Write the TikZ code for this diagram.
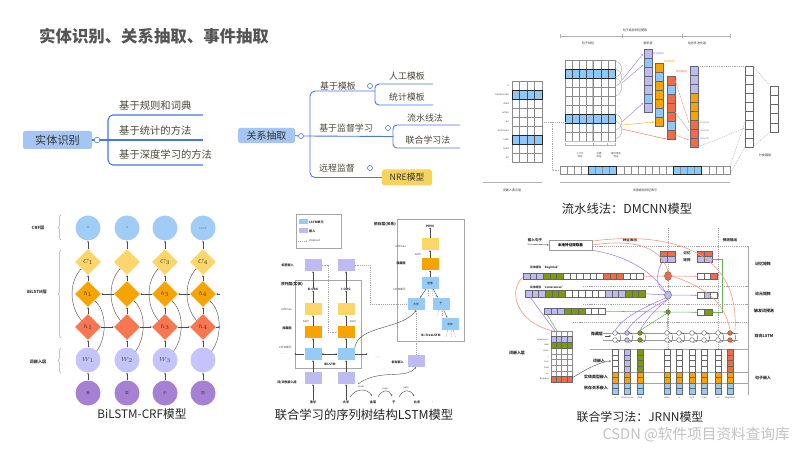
\documentclass[tikz,border=0pt]{standalone}
\usepackage{fontspec}
\setmainfont{Noto Sans CJK SC}
\usetikzlibrary{arrows.meta,shapes.geometric,decorations.pathreplacing,calc}
\newcommand\myfs[1]{\fontsize{#1}{#1}\selectfont}
\definecolor{mmblue}{RGB}{72,118,226}
\definecolor{boxblue}{RGB}{165,197,242}
\definecolor{mmtext}{RGB}{75,70,52}
\definecolor{nrey}{RGB}{246,212,92}
\definecolor{cblue}{RGB}{142,200,248}
\definecolor{lstmb}{RGB}{150,203,248}
\definecolor{cpur}{RGB}{190,186,242}
\definecolor{corg}{RGB}{246,164,0}
\definecolor{cred}{RGB}{242,106,72}
\definecolor{cgrn}{RGB}{122,154,16}
\definecolor{cyel}{RGB}{252,214,106}
\definecolor{cviol}{RGB}{166,128,212}
\definecolor{crfblue}{RGB}{160,204,245}
\definecolor{wlav}{RGB}{196,196,250}
\definecolor{hred}{RGB}{248,118,80}
\definecolor{titlegray}{RGB}{85,85,85}
\definecolor{salm}{RGB}{240,160,140}
\definecolor{arpur}{RGB}{165,120,238}
\definecolor{lgrn}{RGB}{100,180,90}
\newcommand\cellrow[6][cellb]{\foreach \cc [count=\ii from 0] in {#6}{\draw[#1,fill=\cc] ({#2+\ii*#4},#3) rectangle ++(#4,#5);}}
\newcommand\cellcol[6][cellb]{\foreach \cc [count=\ii from 0] in {#6}{\draw[#1,fill=\cc] (#2,{#3+\ii*#5}) rectangle ++(#4,#5);}}
\newcommand\bicol[8]{%
\node[crfc] (crf#1) at (#2,228) {#3};
\node[dia,fill=cyel,font=\myfs{4}] (c#1) at (#2,262) {#4};
\node[dia,fill=corg,font=\myfs{5}] (b#1) at (#2,294) {#5};
\node[dia,fill=hred,font=\myfs{5}] (h#1) at (#2,327) {#6};
\node[wcir] (w#1) at (#2,360) {#7};
\node[zcir] (z#1) at (#2,393) {#8};
\draw[sar] (z#1) -- (w#1);
\draw[sar] (w#1) -- (h#1);
\draw[sar] (h#1) -- (b#1);
\draw[sar] (b#1) -- (c#1);
\draw[sar] (c#1) -- (crf#1);
\draw[sar] ({#2+8.5},351.5) .. controls ({#2+19},337) and ({#2+19},312) .. ({#2+6.5},300.5);
\draw[sar] ({#2-6.5},320.5) .. controls ({#2-19},306) and ({#2-19},282) .. ({#2-6.5},268.5);
}
\begin{document}
\begin{tikzpicture}[x=0.3mm,y=-0.3mm,
 mmline/.style={draw=mmblue,line width=0.9pt},
 mmline2/.style={draw=mmblue,line width=0.75pt},
 mmdot/.style={circle,draw=mmblue,fill=white,line width=0.5pt,minimum size=1.7mm,inner sep=0},
 mmt/.style={text=mmtext,font=\myfs{8.8},inner sep=0},
 mmt2/.style={text=mmtext,font=\myfs{7.6},inner sep=0},
 gcell/.style={draw=black!45,line width=0.3pt},
 cellb/.style={draw=black!60,line width=0.3pt},
 hcell/.style={draw=black!70,line width=0.3pt},
 hbord/.style={draw=black!85,line width=0.6pt},
 tw/.style={font=\myfs{2.1},inner sep=0,text=black!70},
 tl/.style={font=\myfs{2.6},inner sep=0,text=black!80},
 brk/.style={draw=gray!60,line width=0.7pt},
 dsh/.style={draw=gray!70,dash pattern=on 0.8pt off 0.8pt,line width=0.35pt},
 sar/.style={-{Stealth[length=1.5pt,width=1.3pt]},draw=black!70,line width=0.35pt},
 captxt/.style={font=\myfs{10.5},text=black!85,inner sep=0},
 crfc/.style={circle,fill=crfblue,minimum size=7.5mm,inner sep=0,font=\myfs{2.8},text=black!60},
 dia/.style={diamond,shape aspect=1,minimum width=7.8mm,minimum height=7.8mm,inner sep=0,text=black!80},
 wcir/.style={circle,fill=wlav,minimum size=7.5mm,inner sep=0,font=\myfs{4},text=black!70},
 zcir/.style={circle,fill=cviol,minimum size=7.5mm,inner sep=0,font=\myfs{3.2},text=black!75},
 lay/.style={font=\myfs{3.6}\bfseries,inner sep=0,text=black!80},
 r5/.style={minimum width=5.1mm,minimum height=3.6mm,inner sep=0,font=\myfs{2.3}},
 t5/.style={font=\myfs{2.4},inner sep=0,text=black!75},
 t5b/.style={font=\myfs{2.6}\bfseries,inner sep=0,text=black!85},
 t6/.style={font=\myfs{3.4}\bfseries,inner sep=0,text=black!85},
 pline/.style={draw=arpur,line width=0.45pt},
 sline/.style={draw=salm,line width=0.55pt},
 gline/.style={draw=lgrn,line width=0.45pt},
 hdash/.style={draw=gray!70,dash pattern=on 1pt off 0.8pt,line width=0.4pt}
]
\useasboundingbox[fill=white] (0,0) rectangle (800,450);

% ---------------- title
\node[anchor=west,text=titlegray,font=\myfs{14}\bfseries,inner sep=0] (title) at (39,36) {实体识别、关系抽取、事件抽取};

% ---------------- panel 1: entity recognition mind map
\node[fill=boxblue,rounded corners=2pt,minimum width=20.7mm,minimum height=5.4mm,inner sep=0,font=\myfs{9.5},text=black!80] (er) at (57.5,140) {实体识别};
\node[mmdot] (erc) at (97,140) {};
\draw[mmline] (er.east) -- (erc.west);
\draw[mmline,rounded corners=1.5mm] (203,115) -- (108,115) -- (108,165) -- (203,165);
\draw[mmline] (erc.east) -- (203,140);
\node[mmt,anchor=west] (e1) at (119,105.5) {基于规则和词典};
\node[mmt,anchor=west] (e2) at (119,130.5) {基于统计的方法};
\node[mmt,anchor=west] (e3) at (119,155) {基于深度学习的方法};

% ---------------- panel 2: relation extraction mind map
\node[fill=boxblue,rounded corners=1.5pt,minimum width=17.1mm,minimum height=4.6mm,inner sep=0,font=\myfs{8.5},text=black!80] (re) at (266.5,135.5) {关系抽取};
\node[mmdot,minimum size=1.5mm] (rec) at (301,136) {};
\node[fill=nrey,rounded corners=1.5pt,minimum width=15mm,minimum height=4.8mm,inner sep=0,font=\myfs{7.5},text=black!80] (nre) at (407,177.5) {NRE模型};
\draw[mmline2] (re.east) -- (rec.west);
\draw[mmline2,rounded corners=1.5mm] (375,91) -- (310,91) -- (310,177.5) -- (nre.west);
\draw[mmline2] (rec.east) -- (393,136.5);
\draw[mmline2,rounded corners=1.2mm] (433,84) -- (375,84) -- (375,105) -- (433,105);
\draw[mmline2,rounded corners=1.2mm] (460,125) -- (393,125) -- (393,148) -- (460,148);
\node[mmdot,minimum size=1.5mm] (r1c) at (370,86) {};
\node[mmdot,minimum size=1.5mm] (r2c) at (388,128) {};
\node[mmdot,minimum size=1.5mm] (r3c) at (370,168) {};
\node[mmt2] (r1) at (338,86) {基于模板};
\node[mmt2] (r2) at (346,128) {基于监督学习};
\node[mmt2] (r3) at (337,168) {远程监督};
\node[mmt2] (r11) at (407,76) {人工模板};
\node[mmt2] (r12) at (407,97) {统计模板};
\node[mmt2] (r21) at (425,118) {流水线法};
\node[mmt2] (r22) at (428,140) {联合学习法};

% ---------------- panel 3: DMCNN
\draw[brk] (560,36) -- (730,36);
\foreach \x in {560,622,682,730}{\draw[brk,line width=0.4pt] (\x,34) -- (\x,38);}
\node[tl] (d1) at (635,30) {句子级别特征提取};
\node[tl] (d2) at (588,43) {句子特征};
\node[tl] (d3) at (648,43) {卷积层};
\node[tl] (d4) at (697,43) {动态多池化层};
% left grid
\foreach \r in {0,...,8}{\foreach \c in {0,...,3}{\draw[gcell] ({512+\c*7.5},{81+\r*9}) rectangle ++(7.5,9);}}
\foreach \r in {1,6}{\cellrow[hcell]{512}{81+\r*9}{7.5}{9}{cblue,cblue,cblue,cblue}\draw[hbord] (512,{81+\r*9}) rectangle ++(30,9);}
\foreach \w [count=\i from 0] in {a,cameraman,died,when,an,American,tank,fired,on}{\node[tw,anchor=east] (lw\i) at (509,{85.5+\i*9}) {\w};}
\node[tw,anchor=east] (lwd) at (509,167) {...};
% main grid
\draw[gray!45,line width=1.2pt] (593,60) -- (593,141);
\foreach \r in {0,...,8}{\foreach \c in {0,...,6}{\draw[gcell] ({565+\c*7.143},{60+\r*9}) rectangle ++(7.143,9);}}
\foreach \r in {1,6}{\cellrow[hcell]{565}{60+\r*9}{7.143}{9}{cblue,cblue,cblue,cblue,cblue,cblue,cblue}\draw[hbord] (565,{60+\r*9}) rectangle ++(50,9);}
\draw[gray!50,line width=1pt] (565,141.5) -- (615,141.5);
\foreach \a/\b in {61/77,69/86,78/96,114/130,121/139}{\draw[gray!70,line width=0.35pt] (615,\a) .. controls (624,{\a+2}) and (624,{\b-2}) .. (615,\b);}
\foreach \y in {100,106,112}{\fill[gray] (619,\y) circle (0.3);}
\draw[brk,line width=0.5pt] (565,145) -- (615,145);
\foreach \x in {565,593,607,615}{\draw[brk,line width=0.4pt] (\x,143.5) -- (\x,146.5);}
\node[tw,align=center] (f1) at (580,155) {上下文\\特征};
\node[tw,align=center] (f2) at (599,155) {位置\\特征};
\node[tw,align=center] (f3) at (616,155) {事件类型\\特征};
% conv columns
\cellcol{644}{49}{8}{9}{cpur,cblue,cpur,cpur,cpur,cblue,cpur}
\cellcol{655}{63}{8}{9}{corg,cblue,corg,corg,corg,cblue,corg}
\cellcol{667}{76}{8}{9}{cred,cblue,cred,cred,cred,cblue,cred}
\node[tw,text=arpur,anchor=west] (fm1) at (653,54) {特征映射1};
\node[tw,text=corg,anchor=west] (fm2) at (664,62) {特征映射2};
\node[tw,text=cred,anchor=west] (fm3) at (676,72) {特征映射3};
% pooled, classifier
\cellcol{690}{66}{8}{9}{cpur,cpur,cpur,corg,corg,corg,cred,cred,cred}
\cellcol{745}{66}{8}{9}{white,white,white,white,white,white,white,white,white}
\cellcol{770}{86}{8}{9.2}{white,white,white,white,white}
\foreach \y/\t in {123/max(c1),131/max(c2),139/max(c3)}{\node[tw,text=gray,anchor=west] at (700,\y) {\t};}
% arrows into conv
\draw[draw=arpur,line width=0.35pt,-{Stealth[length=1.6pt]}] (622,80) -- (643,54);
\draw[draw=arpur,line width=0.35pt,-{Stealth[length=1.6pt]}] (622,83) -- (643,65);
\draw[draw=arpur,line width=0.35pt,-{Stealth[length=1.6pt]}] (622,122) -- (643,103);
\draw[draw=corg,line width=0.35pt,-{Stealth[length=1.6pt]}] (622,125) -- (654,122);
\draw[draw=cred,line width=0.35pt,-{Stealth[length=1.6pt]}] (622,129) -- (666,139);
\draw[draw=salm,line width=0.35pt,-{Stealth[length=1.6pt]}] (675,80) -- (689,123);
\draw[draw=salm,line width=0.35pt,-{Stealth[length=1.6pt]}] (675,112) -- (689,131);
\draw[draw=salm,line width=0.35pt,-{Stealth[length=1.6pt]}] (675,135) -- (689,140);
% bottom row
\cellrow[gcell]{560}{166}{7.083}{8}{white,white,white,white,cblue,cblue,cblue,cblue,white,white,white,white,white,white,white,white,cblue,cblue,cblue,cblue,white,white,white,white}
\draw[hbord] (588.3,166) rectangle ++(28.33,8);
\draw[hbord] (673.3,166) rectangle ++(28.33,8);
\draw[brk] (483,182) -- (542,182);
\draw[brk] (560,182) -- (730,182);
\node[tl] (d5) at (512,190) {词嵌入表示层};
\node[tl] (d6) at (645,190) {词语级别特征表示};
\node[tl] (d7) at (765,155) {分类器层};
% dashed connectors
\draw[dsh] (542,122) -- (565,122);
\draw[dsh] (552,122) -- (552,170) -- (560,170);
\draw[dsh] (698,66) -- (745,66);
\draw[dsh] (698,147) -- (745,128);
\draw[dsh] (753,66) -- (770,86);
\draw[dsh] (753,147) -- (770,132);
\draw[dsh] (730,166) -- (745,122);
\draw[dsh] (730,174) -- (745,147);
\node[captxt] (cap3) at (627,209) {流水线法：DMCNN模型};

% ---------------- panel 4: BiLSTM-CRF
\bicol{1}{88}{o}{$C_1$}{$b_1$}{$h_1$}{$W_1$}{我}
\bicol{2}{127}{o}{}{}{}{$W_2$}{爱}
\bicol{3}{165}{}{$C_3$}{$b_3$}{$h_3$}{$W_3$}{中}
\bicol{4}{203}{\myfs{2.4}I-LOC}{$C_4$}{$b_4$}{$h_4$}{}{国}
\draw[sar] (h1) -- (h2);
\draw[sar] (h2) -- (h3);
\draw[sar] (h3) -- (h4);
\draw[sar] (b2) -- (b1);
\draw[sar] (b3) -- (b2);
\draw[sar] (b4) -- (b3);
\draw[sar] (h4.east) -- ++(4,0);
\draw[sar] (b4.east) ++(4,0) -- (b4.east);
\node[lay] (l1) at (38,228) {CRF层};
\node[lay] (l2) at (37,292) {BiLSTM层};
\node[lay] (l3) at (38,362) {词嵌入层};
\draw[gray!70,line width=0.4pt,decorate,decoration={brace,amplitude=2.5pt}] (61,240) -- (61,215);
\draw[gray!70,line width=0.4pt,decorate,decoration={brace,amplitude=2.5pt}] (61,338) -- (61,250);
\draw[gray!70,line width=0.4pt,decorate,decoration={brace,amplitude=2.5pt}] (61,373) -- (61,348);
\node[captxt,font=\myfs{10}] (cap4) at (142,414) {BiLSTM-CRF模型};

% ---------------- panel 5: sequence / tree LSTM
\node[draw=gray!70,line width=0.4pt,minimum width=13.5mm,minimum height=10.2mm] (leg) at (318.5,231) {};
\node[fill=lstmb,minimum width=2.7mm,minimum height=1.5mm,inner sep=0] (legb) at (303,222) {};
\node[t5b,anchor=west] (legbt) at (309,222) {LSTM单元};
\node[fill=cpur,minimum width=2.7mm,minimum height=1.5mm,inner sep=0] (legp) at (303,231) {};
\node[t5b,anchor=west] (legpt) at (309,231) {嵌入};
\coordinate (lda) at (298,241); \coordinate (ldb) at (307,241);
\draw[dsh,-{Stealth[length=1.2pt]}] (lda) -- (ldb);
\node[t5,anchor=west] (legdt) at (309,241) {dropout};
\draw[gray!70,line width=0.5pt] (295,280) rectangle (361,368);
\node[t5b,font=\myfs{3.2}\bfseries,anchor=east] (seqlab) at (303,284) {序列层(实体)};
\foreach \i/\x/\lb in {1/313/B-ORG,2/346/I-ORG}{
 \node[r5,fill=cpur] (te\i) at (\x,265) {};
 \node[t5b] (lb\i) at (\x,289) {\lb};
 \node[r5,fill=cyel] (sm\i) at (\x,309) {};
 \node[r5,fill=corg] (hd\i) at (\x,332) {};
 \node[r5,fill=lstmb] (ls\i) at (\x,354) {};
 \node[r5,fill=cpur] (em\i) at (\x,378) {};
 \draw[sar] (em\i) -- (ls\i);
 \draw[sar] (ls\i) -- (hd\i);
 \draw[sar] (hd\i) -- (sm\i);
 \draw[sar] (sm\i) -- (lb\i);
 \draw[sar] (lb\i) -- (te\i);
}
\draw[sar] (ls1) -- (ls2);
\draw[sar] (ls2) -- (ls1);
\draw[sar] (ls1.west) -- ++(-10,0);
\draw[sar] (ls2.east) -- ++(13,0);
\node[t5] (dl) at (283,354) {......};
\node[t5] (dr) at (378,357) {......};
\node[t5,anchor=east] (s5a) at (292,309) {softmax};
\node[t5b,anchor=east] (s5b) at (292,328) {隐藏层};
\node[t5,anchor=east] (s5c) at (292,347) {LSTM单元};
\node[t5] (s5d) at (306,321) {tanh};
\node[t5] (s5e) at (353,321) {tanh};
\node[t5b,anchor=east] (s5f) at (294,265) {标签嵌入};
\node[t5b] (s5g) at (330,364) {BiLSTM};
\node[t5b,anchor=east] (s5h) at (297,382) {词/词性嵌入层};
\foreach \n/\x/\w in {wa/313/清华,wb/346/大学,wc/373/坐落,wd/394/于,we/417/北京,wf/433/.}{\node[t5b] (\n) at (\x,402) {\w};}
\draw[sar] (wa) -- (em1);
\draw[sar] (wb) -- (em2);
\draw[sar] (350,397) .. controls (356,388) and (367,388) .. (372,396);
\node[t5,font=\myfs{2}] (dp1) at (361,387) {nsubj};
\draw[sar] (378,397) .. controls (382,389) and (389,389) .. (392,396);
\node[t5,font=\myfs{2}] (dp2) at (385,389) {prep};
\draw[sar] (399,397) .. controls (403,389) and (410,389) .. (414,396);
\node[t5,font=\myfs{2}] (dp3) at (406,388) {pobj};
% relation box
\draw[gray!70,line width=0.5pt] (397,219) rectangle (464,341);
\node[t5b,font=\myfs{3.2}\bfseries,anchor=east] (rellab) at (396,224) {依存层(关系)};
\node[t5b] (phys) at (430,226) {PHYS};
\node[r5,fill=cyel] (tsm) at (430,244) {};
\node[r5,fill=corg] (thd) at (430,264) {};
\node[r5,fill=lstmb] (tzl) at (430,283) {坐落};
\node[r5,fill=lstmb] (tdx) at (416,304) {大学};
\node[r5,fill=lstmb] (tyu) at (441,304) {于};
\node[r5,fill=lstmb] (tbj) at (450,324) {北京};
\draw[sar] (tzl) -- (thd);
\draw[sar] (thd) -- (tsm);
\draw[sar] (tsm) -- (phys);
\draw[sar] (tzl) -- (tdx);
\draw[sar] (tzl) -- (tyu);
\draw[sar] (tyu) -- (tbj);
\draw[dsh,-{Stealth[length=1.2pt]}] (428,296) -- (428,289);
\draw[dsh,-{Stealth[length=1.2pt]}] (433,296) -- (432,289);
\draw[dsh,-{Stealth[length=1.2pt]}] (437,316) -- (439,310);
\draw[dsh,-{Stealth[length=1.2pt]}] (442,316) -- (442,310);
\draw[dsh,-{Stealth[length=1.2pt]}] (446,337) -- (448,330);
\draw[dsh,-{Stealth[length=1.2pt]}] (452,337) -- (451,330);
\draw[dsh,-{Stealth[length=1.2pt]}] (456,337) -- (453,330);
\node[t5,anchor=east] (t5a) at (406,246) {softmax};
\node[t5] (t5tanh) at (418,254) {tanh};
\node[t5b,anchor=east] (t5c) at (406,263) {隐藏层};
\node[t5,anchor=east] (t5d) at (406,289) {LSTM单元};
\node[t5b] (t5e) at (431,335) {Bi-TreeLSTM};
\node[r5,fill=cpur] (dep) at (416,361) {};
\node[t5b,anchor=east] (deplab) at (404,362) {依存嵌入};
\draw[dsh,-{Stealth[length=1.2pt]}] (dep) -- (tdx);
\draw[dsh,-{Stealth[length=1.2pt]}] (te1.east) -- (328,265) -- (328,332) -- (hd2.west);
\draw[dsh,-{Stealth[length=1.2pt]}] (te2.east) -- (370,265) -- (370,304) -- (tdx.west);
\draw[sar] (ls2.north east) .. controls (358,325) and (402,330) .. (tdx.south);
\draw[sar] (358,384) .. controls (380,368) and (405,380) .. (dep.south);
\node[captxt] (cap5) at (364,415) {联合学习的序列树结构LSTM模型};

% ---------------- panel 6: JRNN
\node[t6,font=\myfs{3}\bfseries] (inlab) at (535,240) {输入句子};
\node[draw=gray!80,line width=0.4pt,minimum width=12.9mm,minimum height=3mm,inner sep=0,font=\myfs{3}\bfseries] (ext) at (570.5,245) {本地特征提取器};
\draw[sar] (527,244) -- (ext.west);
\node[t6,font=\myfs{3}\bfseries] (fr) at (630,240) {特征表示};
\node[t6,font=\myfs{3}\bfseries] (po) at (730,240) {预测输出};
\foreach \y/\xa in {246/593,286/583,304/583,322/573}{\draw[hdash] (\xa,\y) -- (748,\y);}
\draw[gray!70,line width=0.4pt] (590,349) -- (748,349);
\draw[gray!70,line width=0.4pt] (612,372) -- (748,372);
\draw[gray!70,line width=0.4pt] (612,383) -- (748,383);
\draw[hdash] (668,228) -- (668,352);
\draw[hdash] (718,228) -- (718,352);
\draw[gray!70,line width=0.4pt] (748,246) -- (748,395);
\node[t6] (rl1) at (763,264) {记忆矩阵};
\node[t6] (rl2) at (763,294) {论元矩阵};
\node[t6] (rl3) at (764,311) {触发词预测};
\node[t6] (rl4) at (764,336) {双向LSTM};
\node[t6] (rl5) at (763,378) {句子嵌入};
% memory rows
\node[tl,font=\myfs{2.4}\bfseries,anchor=west] (mrl1) at (530,268) {实体提及 “Baghdad”};
\cellrow{523}{273}{6.67}{6.5}{cpur,cpur,cpur,cgrn,cgrn,cgrn,white,white,white,white,white,white,cred,cred,cred,white,white,white}
\node[tl,font=\myfs{2.4}\bfseries,anchor=west] (mrl2) at (530,287) {实体提及 “cameraman”};
\cellrow{525}{290.5}{6.67}{6.5}{cpur,cpur,cpur,cgrn,cgrn,cgrn,white,white,white,white,white,white,cpur,cpur,cpur,cgrn,cgrn,cgrn}
\cellrow{544}{308}{6.78}{6.5}{cpur,cpur,cpur,cgrn,cgrn,cgrn,white,white,white}
% nodes
\node[ellipse,draw=black!70,line width=0.3pt,fill=cred,minimum width=2.1mm,minimum height=2.7mm,inner sep=0] (mr) at (668,276) {};
\node[ellipse,draw=black!70,line width=0.3pt,fill=cpur,minimum width=2.1mm,minimum height=2.5mm,inner sep=0] (mp) at (668,295) {};
\node[circle,draw=black!70,line width=0.3pt,fill=cgrn,minimum size=1.4mm,inner sep=0] (mg) at (668,312) {};
% memory blocks
\cellrow{660}{251}{7.5}{5.5}{cred,cred}
\cellrow{660}{256.5}{7.5}{5.5}{cpur,cpur}
\cellrow{697}{251}{7.5}{5.5}{cred,cred}
\cellrow{697}{256.5}{7.5}{5.5}{cpur,cpur}
\node[t6,font=\myfs{3}\bfseries] (jy) at (687,253) {记忆};
\node[t6,font=\myfs{3}\bfseries] (jz) at (687,260) {矩阵};
% outputs
\cellrow{697}{273}{6.67}{6.5}{white,white,cred}
\cellrow{697}{292}{6.67}{6.5}{white,cpur,white}
\cellrow{697}{309}{7.5}{6.5}{white,cgrn}
\draw[sline,-{Stealth[length=1.5pt]}] (643,276.3) -- (mr);
\draw[sline,-{Stealth[length=1.5pt]}] (mr) -- (697,276.3);
\draw[pline,-{Stealth[length=1.5pt]}] (645,293.8) -- (mp);
\draw[pline,-{Stealth[length=1.5pt]}] (mp) -- (697,295.3);
\draw[gline,-{Stealth[length=1.5pt]}] (605,311.3) -- (mg);
\draw[gline,-{Stealth[length=1.5pt]}] (mg) -- (697,312.3);
\draw[gline,-{Stealth[length=1.5pt]}] (712,259) -- (722,259) -- (722,312.3) -- (712,312.3);
\draw[pline] (662,262) .. controls (655,275) and (656,288) .. (mp.north west);
\draw[sline] (ext.east) .. controls (640,238) and (662,250) .. (mr.north);
\draw[pline,-{Stealth[length=1.5pt]}] (ext.south east) .. controls (628,256) and (652,272) .. (mp.north west);
\draw[sline] (593,241) .. controls (660,232) and (740,245) .. (735,330);
\draw[sline] (mr.east) .. controls (700,285) and (725,300) .. (730,330);
% left word grid
\foreach \r in {0,...,8}{\foreach \c in {0,...,3}{\draw[gcell] ({551+\c*5.25},{331+\r*5.67}) rectangle ++(5.25,5.67);}}
\cellrow{551}{336.67}{5.25}{5.67}{cpur,cpur,cpur,cpur}
\cellrow{551}{342.34}{5.25}{5.67}{cgrn,cgrn,cgrn,cgrn}
\cellrow{551}{376.36}{5.25}{5.67}{cred,cred,cred,cred}
\foreach \w [count=\i from 0] in {a,cameraman,died,when,a,tank,fired,on,Baghdad}{\node[tw,font=\myfs{1.8},anchor=east] (jw\i) at (549,{333.8+\i*5.67}) {\w};}
\node[t6] (wel) at (517,353) {词嵌入层};
\draw[sline] (553,331) .. controls (515,322) and (508,290) .. (523,277);
\draw[pline,-{Stealth[length=1.5pt]}] (555,331) -- (530,297);
\draw[gline,-{Stealth[length=1.5pt]}] (557,331) -- (547,314.5);
\draw[sar] (572,378) .. controls (588,368) and (600,362) .. (611,361);
% Bi-LSTM and embeddings
\draw[gray!80,line width=0.3pt] (603,333) -- (738,333);
\draw[gray!80,line width=0.3pt] (603,340) -- (738,340);
\foreach \x/\cl/\cm [count=\k] in {615/white/white,627/cpur/cpur,640/cgrn/cgrn,667/white/white,679/white/white,692/white/white,704/white/white,718/white/white,730/cred/cred}{
 \node[circle,draw=black!70,line width=0.3pt,fill=\cl,minimum size=1.4mm,inner sep=0] (u\k) at (\x,333) {};
 \node[circle,draw=black!70,line width=0.3pt,fill=\cl,minimum size=1.4mm,inner sep=0] (v\k) at (\x,340) {};
 \draw[draw=black!70,line width=0.3pt] ({\x+2},332) .. controls ({\x+7},332) and ({\x+7},344) .. ({\x+1.5},342.5);
 \cellcol{\x-2.85}{349}{5.7}{5.75}{\cm,\cm,\cm,\cm}
 \cellcol{\x-2.85}{372}{5.7}{5.5}{corg,corg}
 \cellcol{\x-2.85}{383}{5.7}{5.5}{lstmb,lstmb}
}
\foreach \k/\w in {1/a,2/cameraman,3/died,4/when,5/a,6/tank,7/fired,8/on,9/Baghdad}{\node[tw,font=\myfs{1.9}] (jb\k) at (u\k |- 0,398) {\w};}
\draw[pline] (u1.north) .. controls (625,315) and (650,305) .. (mp.south west);
\draw[pline] (u2.north) .. controls (635,318) and (655,305) .. (mp.south);
\draw[pline] (u3.north) .. controls (645,320) and (660,305) .. (mp.south);
\draw[gline] (u3.north) -- (mg.south west);
\draw[gline] (u4.north) -- (mg.south);
\node[t6] (hidl) at (597,334) {隐藏层};
\draw[sar] (605,336) -- (611,336);
\node[t6] (wel2) at (599,361) {词嵌入};
\node[t6] (etl) at (596,377) {实体类型嵌入};
\node[t6] (dpl) at (596,388) {依存关系嵌入};
\node[captxt,font=\myfs{10.2}] (cap6) at (640,417) {联合学习法：JRNN模型};

% ---------------- watermark
\node[anchor=east,font=\myfs{12.5},text=gray!48,inner sep=0] (wm) at (790,435) {CSDN @软件项目资料查询库};
\end{tikzpicture}
\end{document}
